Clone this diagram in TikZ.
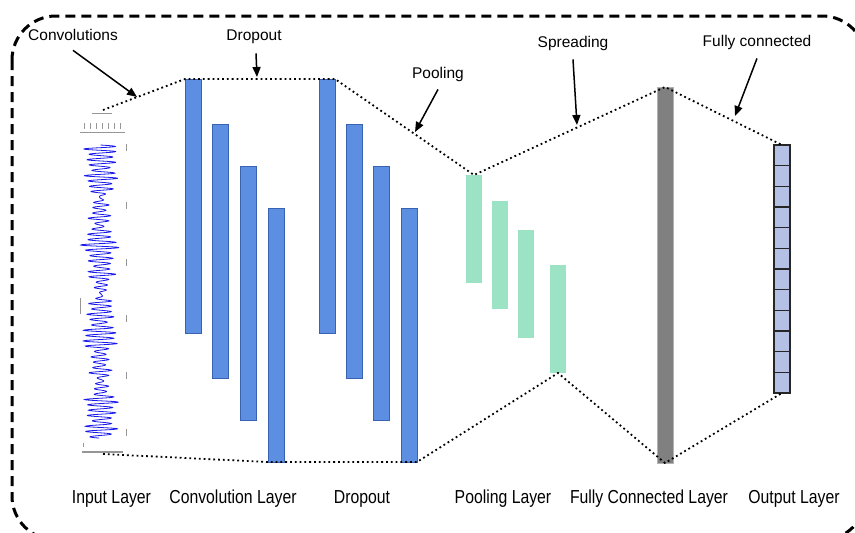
\documentclass[tikz,border=0pt]{standalone}
\usepackage{fontspec}
\usepackage{graphicx}
\setmainfont{Liberation Sans}
\usetikzlibrary{arrows.meta}
\definecolor{convblue}{RGB}{92,142,226}
\definecolor{convedge}{RGB}{58,98,178}
\definecolor{poolgreen}{RGB}{156,226,196}
\definecolor{fcgray}{RGB}{128,128,128}
\definecolor{fcedge}{RGB}{178,178,178}
\definecolor{outcell}{RGB}{180,192,228}
\definecolor{wavecol}{RGB}{25,25,235}
\definecolor{axisgray}{RGB}{150,150,150}

\newcommand{\layerlabel}[1]{\scalebox{0.84}[1]{#1}}

\begin{document}
\begin{tikzpicture}[x=1pt,y=-1pt,
  framebox/.style={line width=3pt, dash pattern=on 10pt off 6pt, rounded corners=44pt},
  barbase/.style={inner sep=0pt, outer sep=0pt, anchor=north west},
  convbar/.style={barbase, fill=convblue, draw=convedge, line width=0.8pt, minimum width=16pt, minimum height=254pt},
  poolbar/.style={barbase, fill=poolgreen, minimum width=16pt, minimum height=108pt},
  fcbar/.style={barbase, fill=fcgray, draw=fcedge, line width=0.6pt, minimum width=16pt, minimum height=376pt},
  outbox/.style={barbase, fill=outcell, draw=black!85, line width=1.1pt, minimum width=16pt, minimum height=20.667pt},
  dots/.style={line width=1.8pt, dash pattern=on 1.8pt off 3pt},
  callout/.style={line width=1.5pt, -{Triangle[length=10pt,width=8pt]}},
  toplabel/.style={font=\fontsize{15.5}{18}\selectfont, anchor=base, inner sep=0pt},
  botlabel/.style={font=\fontsize{18.8}{22}\selectfont, anchor=base, inner sep=0pt},
  tickmark/.style={axisgray, line width=0.5pt}]

\useasboundingbox (0,0) rectangle (855,533);

% dashed outer frame, partly running off the page
\begin{scope}
  \clip (0,0) rectangle (855,533);
  \draw[framebox] (12,16) rectangle (866,540);
\end{scope}

% ---------- input signal ----------
\draw[wavecol, line width=0.8pt]
  plot[domain=0:55, samples=991, variable=\k]
  ({100.5 + 0.8*sin(\k*17) + (10 + 4*sin(\k*23) + 3*sin(\k*61+30) + 3*sin(\k*137+10))*sin(360*frac(\k))},
   {145 + \k*5.33});
% small axis marks of the signal plot
\draw[tickmark] (92,113) -- (112,113);
\foreach \xx in {84,90,96,102,108,114,120}
  \draw[tickmark] (\xx,123) -- (\xx,129);
\draw[tickmark, line width=0.8pt] (80,132) -- (125,132);
\foreach \yy in {147,205,262,318,375,432}
  \draw[tickmark] (126,\yy-3) -- (126,\yy+4);
\draw[tickmark] (80,298) -- (80,314);
\draw[tickmark] (83,443) -- (83,447);
\draw[axisgray, line width=1.6pt] (82,452) -- (123,452);
\coordinate (inTop) at (103,110);
\coordinate (inBot) at (103,454);

% ---------- convolution layer ----------
\node[convbar] (c1) at (185,79) {};
\node[convbar] (c2) at (212,124) {};
\node[convbar] (c3) at (240,166) {};
\node[convbar] (c4) at (268,208) {};

% ---------- dropout ----------
\node[convbar] (d1) at (319,79) {};
\node[convbar] (d2) at (346,124) {};
\node[convbar] (d3) at (373,166) {};
\node[convbar] (d4) at (401,208) {};

% ---------- pooling layer ----------
\node[poolbar] (p1) at (466,175) {};
\node[poolbar] (p2) at (492,201) {};
\node[poolbar] (p3) at (518,230) {};
\node[poolbar] (p4) at (550,265) {};

% ---------- fully connected layer ----------
\node[fcbar] (fc) at (657,87) {};

% ---------- output layer ----------
\foreach \i in {1,...,12}
  \node[outbox] (o\i) at (774,{145+(\i-1)*20.667}) {};

% ---------- dotted outline ----------
\draw[dots] (inTop) -- (c1.north west) -- (d1.north east) -- (p1.north)
  -- (fc.north) -- (o1.north);
\draw[dots] (inBot) -- (c4.south west) -- (d4.south east) -- (p4.south)
  -- (fc.south) -- (o12.south);

% ---------- callouts ----------
\node[toplabel] (lconv) at (73,40) {Convolutions};
\node[toplabel] (ldrop) at (254,40) {Dropout};
\node[toplabel] (lpool) at (438,78) {Pooling};
\node[toplabel] (lspread) at (573,47) {Spreading};
\node[toplabel] (lfull) at (757,46) {Fully connected};

\coordinate (aConv) at (137,97);
\coordinate (aDrop) at (257,77);
\coordinate (aPool) at (415,132);
\coordinate (aSpread) at (577,125);
\coordinate (aFull) at (735,116);

\draw[callout] (lconv.south) ++(0,10) -- (aConv);
\draw[callout] (ldrop.south) ++(2,10) -- (aDrop);
\draw[callout] (lpool.south) ++(0,8) -- (aPool);
\draw[callout] (lspread.south) ++(0,9) -- (aSpread);
\draw[callout] (lfull.south) ++(0,9) -- (aFull);

% ---------- layer names ----------
\node[botlabel] (nIn) at (111.5,503) {\layerlabel{Input Layer}};
\node[botlabel] (nConv) at (233,503) {\layerlabel{Convolution Layer}};
\node[botlabel] (nDrop) at (362,503) {\layerlabel{Dropout}};
\node[botlabel] (nPool) at (503,503) {\layerlabel{Pooling Layer}};
\node[botlabel] (nFc) at (649,503) {\layerlabel{Fully Connected Layer}};
\node[botlabel] (nOut) at (794,503) {\layerlabel{Output Layer}};

\end{tikzpicture}
\end{document}
